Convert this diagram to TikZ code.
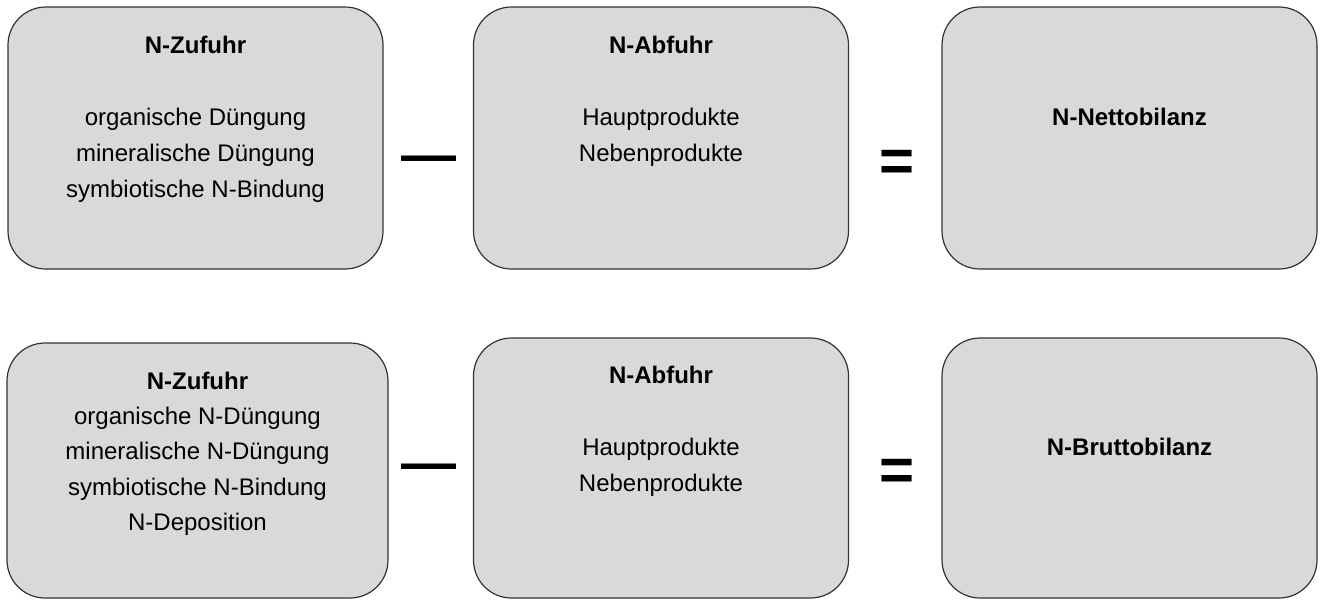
\documentclass[tikz,border=0pt]{standalone}
\usepackage{fontspec}
\setmainfont{Liberation Sans}
\tikzset{
  nbox/.style={draw=black!80, line width=0.6pt, fill=black!15, rounded corners=19pt,
    minimum width=187.5pt, minimum height=131pt, inner sep=0pt},
  ntext/.style={anchor=north, inner sep=0pt, align=center, font=\fontsize{12}{18}\selectfont},
  nminus/.style={anchor=base, inner sep=0pt, font=\bfseries\fontsize{27.5}{30}\selectfont},
  nequal/.style={anchor=base, inner sep=0pt, font=\bfseries\fontsize{30}{32}\selectfont}
}
\begin{document}
\begin{tikzpicture}[x=0.5pt, y=-0.5pt]
    \useasboundingbox (0,0) rectangle (1320,600);

    % Netto balance: boxes
    \node[nbox] (zu1) at (195.5, 138) {};
    \node[nbox] (ab1) at (661, 138) {};
    \node[nbox] (bil1) at (1129.5, 138) {};

    % Netto balance: texts
    \node[ntext] (zu1t) at (195.5, 27.8) {\strut\textbf{N-Zufuhr}\\ \\ organische Düngung\\ mineralische Düngung\\ symbiotische N-Bindung};
    \node[ntext] (ab1t) at (661, 27.8) {\strut\textbf{N-Abfuhr}\\ \\ Hauptprodukte\\ Nebenprodukte};
    \node[ntext] (bil1t) at (1129.5, 99.8) {\strut\textbf{N-Nettobilanz}};

    % Netto balance: operators
    \node[nminus] (minus1) at (428.5, 173) {—};
    \node[nequal] (eq1) at (897, 181) {=};

    % Brutto balance: boxes
    \node[nbox, minimum width=190.5pt, minimum height=127.5pt] (zu2) at (197.5, 470.5) {};
    \node[nbox, minimum height=130pt] (ab2) at (661, 468) {};
    \node[nbox, minimum height=130pt] (bil2) at (1129.5, 468) {};

    % Brutto balance: texts
    \node[ntext, font=\fontsize{12}{17.6}\selectfont] (zu2t) at (197.5, 364.4) {\strut\textbf{N-Zufuhr}\\ organische N-Düngung\\ mineralische N-Düngung\\ symbiotische N-Bindung\\ N-Deposition};
    \node[ntext] (ab2t) at (661, 357.8) {\strut\textbf{N-Abfuhr}\\ \\ Hauptprodukte\\ Nebenprodukte};
    \node[ntext] (bil2t) at (1129.5, 429.8) {\strut\textbf{N-Bruttobilanz}};

    % Brutto balance: operators
    \node[nminus] (minus2) at (428.5, 481) {—};
    \node[nequal] (eq2) at (897, 490) {=};

\end{tikzpicture}
\end{document}
